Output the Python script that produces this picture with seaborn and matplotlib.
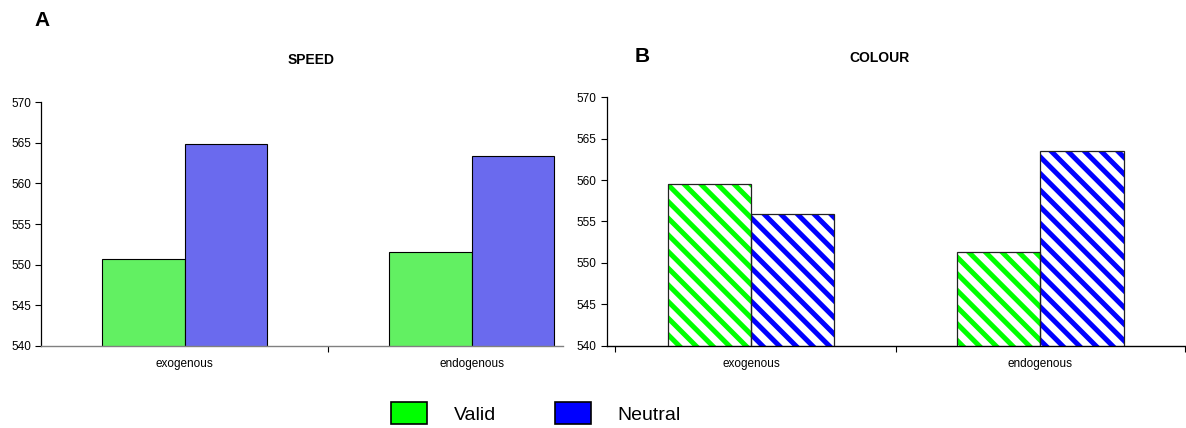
import matplotlib
matplotlib.use("Agg")
import matplotlib.pyplot as plt
from matplotlib.patches import Patch, Rectangle
import pandas as pd
import seaborn as sns

# Mean response times (ms) per cue type and condition
cue_types = ["exogenous", "endogenous"]
conditions = ["Valid", "Neutral"]
speed_valid = [550.7, 551.5]
speed_neutral = [564.9, 563.4]
colour_valid = [559.5, 551.3]
colour_neutral = [555.9, 563.5]
y_ticks = [540, 545, 550, 555, 560, 565, 570]

sns.set_style("white")
plt.rcParams["font.family"] = ["Liberation Sans", "DejaVu Sans"]
plt.rcParams["hatch.linewidth"] = 3.6
for key in ("text.color", "axes.labelcolor", "xtick.color", "ytick.color"):
    plt.rcParams[key] = "black"

green = "#00ff00"
blue = "#0000ff"
green_dot = "#62f062"
blue_dot = "#6a6aee"


def frame(valid, neutral):
    return pd.DataFrame({
        "cue": cue_types * 2,
        "condition": [conditions[0]] * len(cue_types) + [conditions[1]] * len(cue_types),
        "rt": list(valid) + list(neutral),
    })


fig = plt.figure(figsize=(11.86, 4.28), dpi=100)
ax_a = fig.add_axes([0.0346, 0.1916, 0.484, 0.570])
ax_b = fig.add_axes([0.5114, 0.1923, 0.4878, 0.5804])
ax_b.patch.set_alpha(0)


def style_axes(ax, bottom_color):
    ax.set_ylim(y_ticks[0], y_ticks[-1])
    ax.set_yticks(y_ticks)
    ax.set_xlim(-0.5, len(cue_types) - 0.5)
    ax.set_xlabel("")
    ax.set_ylabel("")
    for side in ("top", "right"):
        ax.spines[side].set_visible(False)
    ax.spines["left"].set_color("black")
    ax.spines["left"].set_linewidth(0.9)
    ax.spines["bottom"].set_color(bottom_color)
    ax.spines["bottom"].set_linewidth(1.0)
    ax.tick_params(axis="y", direction="out", length=4, width=0.8,
                   color="black", labelsize=8.5, pad=3, left=True)
    ax.tick_params(axis="x", which="major", length=0, labelsize=8.5, pad=9)
    ax.set_xticks([i + 0.5 for i in range(len(cue_types))], minor=True)
    ax.tick_params(axis="x", which="minor", direction="out", length=4,
                   width=0.8, color="black", bottom=True)
    if ax.get_legend() is not None:
        ax.get_legend().remove()


# Panel A: speed
sns.barplot(data=frame(speed_valid, speed_neutral), x="cue", y="rt",
            hue="condition", order=cue_types, hue_order=conditions,
            palette=[green_dot, blue_dot], saturation=1, width=0.575, gap=0,
            edgecolor="black", linewidth=0.8, ax=ax_a)
style_axes(ax_a, "#808080")
# x axis stops where panel B's tick labels begin
x_stop = ax_a.transData.inverted().transform(
    fig.transFigure.transform((563 / 1186, 0)))[0]
ax_a.spines["bottom"].set_bounds(-0.5, x_stop)

# Panel B: colour, striped bars
sns.barplot(data=frame(colour_valid, colour_neutral), x="cue", y="rt",
            hue="condition", order=cue_types, hue_order=conditions,
            palette=[green, blue], saturation=1, width=0.575, gap=0, ax=ax_b)
style_axes(ax_b, "black")
for bar_patch in list(ax_b.patches):
    if bar_patch.get_height() == 0:
        continue
    stripe = bar_patch.get_facecolor()
    bar_patch.set_facecolor("white")
    bar_patch.set_edgecolor(stripe)
    bar_patch.set_hatch("\\\\")
    bar_patch.set_linewidth(0)
    ax_b.add_patch(Rectangle(bar_patch.get_xy(), bar_patch.get_width(),
                             bar_patch.get_height(), fill=False,
                             edgecolor="#222222", linewidth=0.9, zorder=3))

# Titles and panel letters
fig.text(42 / 1186, 1 - 20 / 428, "A", fontsize=15, fontweight="bold",
         ha="center", va="center")
fig.text(311 / 1186, 1 - 60 / 428, "SPEED", fontsize=10, fontweight="bold",
         ha="center", va="center")
fig.text(642 / 1186, 1 - 56 / 428, "B", fontsize=15, fontweight="bold",
         ha="center", va="center")
fig.text(880 / 1186, 1 - 58 / 428, "COLOUR", fontsize=10, fontweight="bold",
         ha="center", va="center")

# Shared legend
handles = [Patch(facecolor=green, edgecolor="black", linewidth=1.2),
           Patch(facecolor=blue, edgecolor="black", linewidth=1.2)]
fig.legend(handles, conditions, loc="center", ncol=2,
           bbox_to_anchor=(536 / 1186, 15 / 428), frameon=False,
           fontsize=14, handlelength=1.85, handleheight=1.3,
           handletextpad=1.4, columnspacing=3.0)

fig.savefig("out.png", dpi=100)
